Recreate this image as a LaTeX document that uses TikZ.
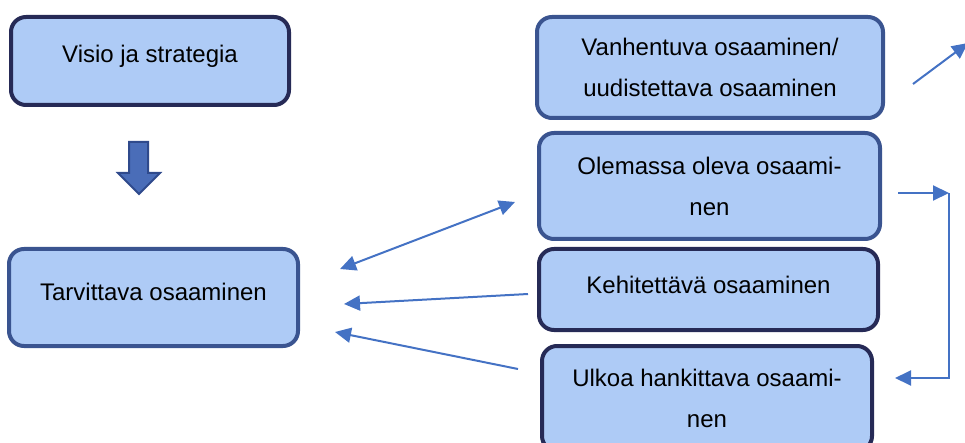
\documentclass[tikz,border=0pt]{standalone}
\usepackage{fontspec}
\setmainfont{Liberation Sans}
\usetikzlibrary{arrows.meta}
\definecolor{boxfill}{HTML}{AECBF6}
\definecolor{navy}{HTML}{262A56}
\definecolor{steel}{HTML}{3A5490}
\definecolor{arrowblue}{HTML}{4472C4}
\definecolor{fatfill}{HTML}{4A6DB8}
\definecolor{fatedge}{HTML}{2F4A8C}

\begin{document}
\begin{tikzpicture}[x=1pt,y=-1pt,
	box/.style={line width=4pt,fill=boxfill,rounded corners=15pt,align=center,inner sep=0pt,
		font=\fontsize{24}{41}\selectfont},
	navybox/.style={box,draw=navy},
	steelbox/.style={box,draw=steel},
	link/.style={draw=arrowblue,line width=2pt,-{Triangle[length=16pt,width=15pt]}},
	twolink/.style={link,{Triangle[length=16pt,width=15pt]}-{Triangle[length=16pt,width=15pt]}}]
	\clip (0,0) rectangle (965,443);
	% left column
	\node[navybox,minimum width=278pt,minimum height=88pt,text depth=14pt] (visio) at (150,61) {Visio ja strategia};
	\node[steelbox,minimum width=289pt,minimum height=97pt,text depth=12pt] (tarvittava) at (153.5,297.5) {Tarvittava osaaminen};
	% right column
	\node[steelbox,minimum width=346pt,minimum height=101pt] (vanhentuva) at (710,67.5) {Vanhentuva osaaminen/\\uudistettava osaaminen};
	\node[steelbox,minimum width=341pt,minimum height=106pt] (olemassa) at (709.5,186) {Olemassa oleva osaami-\\nen};
	\node[navybox,minimum width=339pt,minimum height=81pt,text depth=9pt] (kehitettava) at (708.5,289.5) {Kehitettävä osaaminen};
	\node[navybox,minimum width=330pt,minimum height=105pt] (ulkoa) at (707,398.5) {Ulkoa hankittava osaami-\\nen};
	% fat arrow
	\draw[line width=2pt,draw=fatedge,fill=fatfill] (129,142) -- (148,142) -- (148,173) -- (160,173)
		-- (139,194) -- (118,173) -- (129,173) -- cycle;
	% arrow ends
	\coordinate (d1) at (340,269);
	\coordinate (d2) at (515,202);
	\coordinate (k1) at (528,294);
	\coordinate (k2) at (344,304);
	\coordinate (u1) at (518,369);
	\coordinate (u2) at (335,332);
	\coordinate (v1) at (913,84);
	\coordinate (v2) at (968,43);
	\coordinate (o1) at (898,193);
	\coordinate (o2) at (949,193);
	\coordinate (o3) at (895,378);
	\draw[twolink] (d1) -- (d2);
	\draw[link] (k1) -- (k2);
	\draw[link] (u1) -- (u2);
	\draw[link] (v1) -- (v2);
	\draw[link] (o1) -- (o2);
	\draw[link] (o2) |- (o3);
\end{tikzpicture}
\end{document}
